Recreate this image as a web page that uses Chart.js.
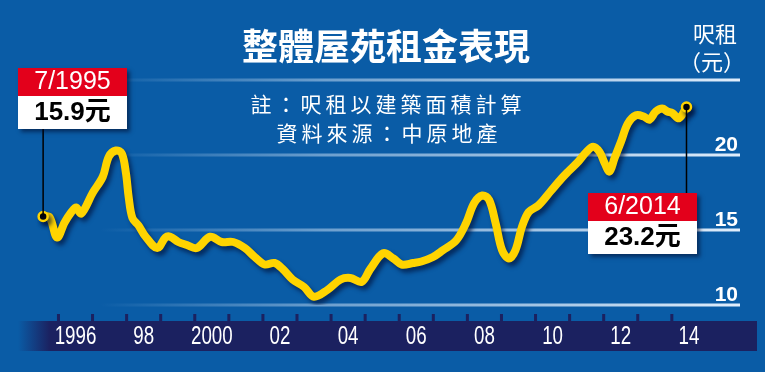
<!DOCTYPE html>
<html>
<head>
<meta charset="utf-8">
<script src="https://cdn.jsdelivr.net/npm/chart.js@4.4.1/dist/chart.umd.min.js"></script>
<style>
  html, body { margin: 0; padding: 0; background: #0a5ca6; }
  #wrap { width: 765px; height: 372px; }
</style>
</head>
<body>
<div id="wrap"><canvas id="rentChart" width="765" height="372"></canvas></div>
<script>
// 每呎租金 (元), 讀自原圖
const dates = [
  1995.55, 1995.74, 1995.96, 1996.18, 1996.38, 1996.52, 1996.67, 1997.01, 1997.30, 1997.48,
  1997.69, 1997.86, 1997.98, 1998.06, 1998.17, 1998.35, 1998.56, 1998.90, 1999.14, 1999.28,
  1999.52, 1999.77, 2000.06, 2000.45, 2000.79, 2001.13, 2001.47, 2001.76, 2002.05, 2002.34,
  2002.58, 2002.87, 2003.21, 2003.50, 2003.89, 2004.28, 2004.57, 2004.90, 2005.15, 2005.53,
  2005.83, 2006.07, 2006.41, 2006.65, 2006.99, 2007.28, 2007.67, 2007.96, 2008.20, 2008.44,
  2008.64, 2008.83, 2009.02, 2009.22, 2009.41, 2009.60, 2009.80, 2010.09, 2010.43, 2010.77,
  2010.96, 2011.25, 2011.49, 2011.69, 2011.88, 2012.03, 2012.17, 2012.32, 2012.51, 2012.71,
  2012.95, 2013.19, 2013.34, 2013.53, 2013.72, 2013.87, 2014.01, 2014.21, 2014.43
];
const rents = [
  15.9, 15.85, 14.5, 15.5, 16.2, 16.5, 16.1, 17.5, 18.55, 19.9,
  20.3, 20.1, 18.8, 17.2, 15.8, 15.3, 14.55, 13.8, 14.5, 14.55,
  14.2, 14.0, 13.8, 14.55, 14.2, 14.2, 13.8, 13.2, 12.7, 12.8,
  12.4, 11.7, 11.2, 10.55, 11.0, 11.7, 11.8, 11.55, 12.4, 13.45,
  13.1, 12.7, 12.8, 12.9, 13.2, 13.65, 14.3, 15.45, 16.8, 17.3,
  17.0, 15.45, 13.65, 13.1, 13.65, 15.2, 16.2, 16.65, 17.55, 18.45,
  18.9, 19.55, 20.2, 20.55, 20.2, 19.45, 18.9, 19.8, 20.9, 22.1,
  22.65, 22.55, 22.35, 22.9, 23.1, 22.9, 22.8, 22.45, 23.2
];

const yearTicks = [1996, 1997, 1998, 1999, 2000, 2001, 2002, 2003, 2004, 2005,
  2006, 2007, 2008, 2009, 2010, 2011, 2012, 2013, 2014];
const labelPos = [1996.5, 1998.5, 2000.5, 2002.5, 2004.5, 2006.5, 2008.5, 2010.5, 2012.5, 2014.5];
const yearLabels = ['1996', '98', '2000', '02', '04', '06', '08', '10', '12', '14'];
const gridValues = [10, 15, 20, 25];
const valueLabels = ['10', '15', '20', ''];

const startNote = ['7/1995', '15.9元'];
const endNote = ['6/2014', '23.2元'];

const BG = '#0a5ca6';
const NAVY = '#1b2160';
const YELLOW = '#ffd400';

const decor = {
  id: 'decor',
  beforeDraw(chart) {
    const { ctx } = chart;
    const xs = chart.scales.x, ys = chart.scales.y;
    ctx.save();
    ctx.fillStyle = BG;
    ctx.fillRect(0, 0, chart.width, chart.height);

    // year band
    const bg = ctx.createLinearGradient(18, 0, 50, 0);
    bg.addColorStop(0, 'rgba(27,33,96,0)');
    bg.addColorStop(1, NAVY);
    ctx.fillStyle = bg;
    ctx.fillRect(18, 321, 739, 30);
    ctx.fillStyle = NAVY;
    yearTicks.forEach(t => {
      const px = xs.getPixelForValue(t);
      ctx.fillRect(px - 1.5, 314, 3, 7);
    });

    // narrow year labels
    ctx.fillStyle = '#fff';
    ctx.font = '25px "Liberation Sans", Arial, sans-serif';
    ctx.textAlign = 'center';
    ctx.textBaseline = 'middle';
    labelPos.forEach((v, i) => {
      const px = xs.getPixelForValue(v);
      ctx.save();
      ctx.translate(px, 337);
      ctx.scale(0.75, 1);
      ctx.fillText(yearLabels[i], 0, 0);
      ctx.restore();
    });

    // grid lines fading to the left
    const gl = ctx.createLinearGradient(100, 0, 740, 0);
    gl.addColorStop(0, 'rgba(190,215,240,0)');
    gl.addColorStop(0.35, 'rgba(190,215,240,0.55)');
    gl.addColorStop(1, 'rgba(225,238,252,1)');
    ctx.strokeStyle = gl;
    ctx.lineWidth = 3;
    gridValues.forEach(v => {
      const py = ys.getPixelForValue(v);
      ctx.beginPath();
      ctx.moveTo(100, py);
      ctx.lineTo(chart.chartArea.right, py);
      ctx.stroke();
    });

    ctx.font = 'bold 21px "Liberation Sans", Arial, sans-serif';
    ctx.textAlign = 'right';
    ctx.textBaseline = 'alphabetic';
    gridValues.forEach((v, i) => {
      ctx.fillText(valueLabels[i], chart.chartArea.right - 2, ys.getPixelForValue(v) - 4);
    });
    ctx.restore();
  },
  beforeDatasetDraw(chart) {
    const { ctx } = chart;
    ctx.save();
    ctx.shadowColor = 'rgba(0,18,60,0.65)';
    ctx.shadowOffsetX = 3;
    ctx.shadowOffsetY = 4;
    ctx.shadowBlur = 4;
  },
  afterDatasetDraw(chart) {
    chart.ctx.restore();
  },
  afterDraw(chart) {
    const { ctx } = chart;
    const xs = chart.scales.x, ys = chart.scales.y;
    ctx.save();
    ctx.fillStyle = '#fff';
    ctx.textAlign = 'center';
    ctx.textBaseline = 'middle';
    ctx.font = 'bold 36px "Noto Sans CJK TC", sans-serif';
    ctx.fillText('整體屋苑租金表現', 386, 46);

    ctx.font = '21px "Noto Sans CJK TC", sans-serif';
    ctx.letterSpacing = '4px';
    ctx.fillText('註：呎租以建築面積計算', 388, 104);
    ctx.fillText('資料來源：中原地產', 389, 133);
    ctx.letterSpacing = '0px';

    ctx.font = '22px "Noto Sans CJK TC", sans-serif';
    ctx.fillText('呎租', 715, 34);
    ctx.fillText('（元）', 712, 62);

    // callouts
    const first = { x: xs.getPixelForValue(dates[0]), y: ys.getPixelForValue(rents[0]) };
    const last = { x: xs.getPixelForValue(dates[dates.length - 1]), y: ys.getPixelForValue(rents[rents.length - 1]) };
    ctx.strokeStyle = '#000';
    ctx.lineWidth = 1.5;
    ctx.beginPath();
    ctx.moveTo(first.x, 129); ctx.lineTo(first.x, first.y);
    ctx.moveTo(last.x, last.y); ctx.lineTo(last.x, 193);
    ctx.stroke();

    const box = (bx, by, lines) => {
      ctx.save();
      ctx.shadowColor = 'rgba(0,10,40,0.55)';
      ctx.shadowOffsetX = 3;
      ctx.shadowOffsetY = 3;
      ctx.shadowBlur = 4;
      ctx.fillStyle = '#fff';
      ctx.fillRect(bx, by, 109, 61);
      ctx.restore();
      ctx.fillStyle = '#e3001b';
      ctx.fillRect(bx, by, 109, 28);
      ctx.fillStyle = '#fff';
      ctx.font = '25px "Liberation Sans", Arial, sans-serif';
      ctx.fillText(lines[0], bx + 54.5, by + 14);
      ctx.fillStyle = '#000';
      ctx.font = 'bold 26px "Liberation Sans", "Noto Sans CJK TC", sans-serif';
      ctx.fillText(lines[1], bx + 54.5, by + 45);
    };
    box(18, 68, startNote);
    box(588, 193, endNote);
    ctx.restore();
  }
};

const ctx = document.getElementById('rentChart').getContext('2d');
const lastIdx = dates.length - 1;

new Chart(ctx, {
  type: 'line',
  data: {
    datasets: [{
      label: '呎租',
      data: dates.map((d, i) => ({ x: d, y: rents[i] })),
      borderColor: YELLOW,
      borderWidth: 8,
      tension: 0.35,
      borderCapStyle: 'round',
      borderJoinStyle: 'round',
      pointRadius: c => (c.dataIndex === 0 || c.dataIndex === lastIdx) ? 4.5 : 0,
      pointBackgroundColor: '#000',
      pointBorderColor: YELLOW,
      pointBorderWidth: 2.5,
      fill: false
    }]
  },
  options: {
    responsive: false,
    animation: false,
    devicePixelRatio: 1,
    layout: { padding: { top: 80, right: 25, bottom: 0, left: 0 } },
    plugins: { legend: { display: false }, tooltip: { enabled: false } },
    scales: {
      x: {
        type: 'linear',
        min: 1994.49,
        max: 2016.0,
        grid: { display: false, drawTicks: false },
        border: { display: false },
        afterFit: axis => { axis.height = 67; },
        ticks: { display: false }
      },
      y: {
        display: false,
        min: 10,
        max: 25
      }
    }
  },
  plugins: [decor]
});
</script>
</body>
</html>
